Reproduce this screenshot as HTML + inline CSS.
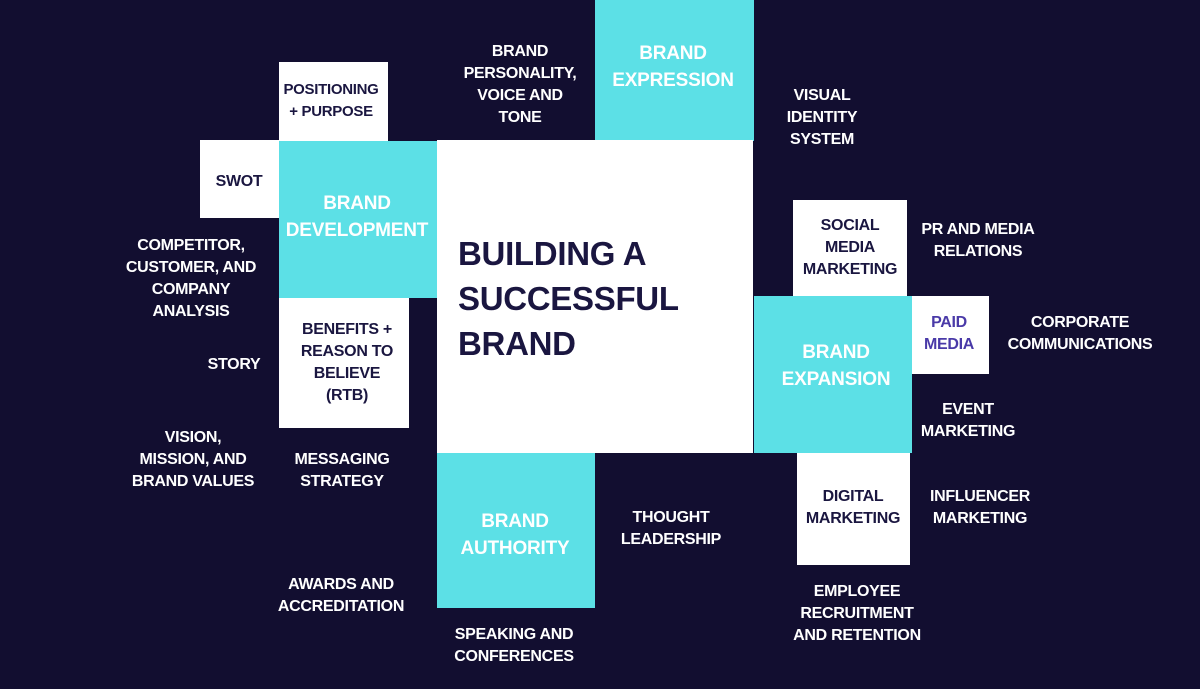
<!DOCTYPE html>
<html><head><meta charset="utf-8"><style>
body{margin:0;width:1200px;height:689px;background:#120e30;position:relative;overflow:hidden;font-family:"Liberation Sans",sans-serif;font-weight:bold}
.b{position:absolute}
.w{background:#fff}.c{background:#5ce0e6}
.t{position:absolute;transform:translateX(-50%);text-align:center;white-space:nowrap;font-size:16px;line-height:22px;letter-spacing:-0.3px;color:#fff}
.d{color:#1a1640}
.h{font-size:19px;line-height:27px;letter-spacing:-0.2px;color:#fff}
</style></head><body>
<div class="b c" style="left:595px;top:0;width:159px;height:141px"></div>
<div class="b w" style="left:437px;top:140px;width:316px;height:313px"></div>
<div class="b w" style="left:279px;top:62px;width:109px;height:80px"></div>
<div class="b w" style="left:200px;top:140px;width:79px;height:78px"></div>
<div class="b c" style="left:279px;top:141px;width:158px;height:157px"></div>
<div class="b w" style="left:279px;top:298px;width:130px;height:130px"></div>
<div class="b c" style="left:437px;top:453px;width:158px;height:155px"></div>
<div class="b w" style="left:793px;top:200px;width:114px;height:97px"></div>
<div class="b c" style="left:754px;top:296px;width:158px;height:157px"></div>
<div class="b w" style="left:912px;top:296px;width:77px;height:78px"></div>
<div class="b w" style="left:797px;top:453px;width:113px;height:112px"></div>

<div class="t" style="left:520px;top:41px">BRAND<br>PERSONALITY,<br>VOICE AND<br>TONE</div>
<div class="t h" style="left:673px;top:40px">BRAND<br>EXPRESSION</div>
<div class="t" style="left:822px;top:85px">VISUAL<br>IDENTITY<br>SYSTEM</div>
<div class="t d" style="left:331px;top:79px;font-size:15px">POSITIONING<br>+ PURPOSE</div>
<div class="t d" style="left:239px;top:171px">SWOT</div>
<div class="t h" style="left:357px;top:190px">BRAND<br>DEVELOPMENT</div>
<div class="t" style="left:191px;top:235px">COMPETITOR,<br>CUSTOMER, AND<br>COMPANY<br>ANALYSIS</div>
<div class="t d" style="left:347px;top:319px">BENEFITS +<br>REASON TO<br>BELIEVE<br>(RTB)</div>
<div class="t" style="left:234px;top:354px">STORY</div>
<div class="t" style="left:193px;top:427px">VISION,<br>MISSION, AND<br>BRAND VALUES</div>
<div class="t" style="left:342px;top:449px">MESSAGING<br>STRATEGY</div>
<div class="t h" style="left:515px;top:508px">BRAND<br>AUTHORITY</div>
<div class="t" style="left:671px;top:507px">THOUGHT<br>LEADERSHIP</div>
<div class="t" style="left:341px;top:574px">AWARDS AND<br>ACCREDITATION</div>
<div class="t" style="left:514px;top:624px">SPEAKING AND<br>CONFERENCES</div>
<div class="t d" style="left:850px;top:215px">SOCIAL<br>MEDIA<br>MARKETING</div>
<div class="t" style="left:978px;top:219px">PR AND MEDIA<br>RELATIONS</div>
<div class="t" style="left:949px;top:312px;color:#4a3aa8">PAID<br>MEDIA</div>
<div class="t" style="left:1080px;top:312px">CORPORATE<br>COMMUNICATIONS</div>
<div class="t h" style="left:836px;top:339px">BRAND<br>EXPANSION</div>
<div class="t" style="left:968px;top:399px">EVENT<br>MARKETING</div>
<div class="t d" style="left:853px;top:486px">DIGITAL<br>MARKETING</div>
<div class="t" style="left:980px;top:486px">INFLUENCER<br>MARKETING</div>
<div class="t" style="left:857px;top:581px">EMPLOYEE<br>RECRUITMENT<br>AND RETENTION</div>
<div style="position:absolute;left:458px;top:231px;font-size:33px;line-height:45px;color:#1a1640;letter-spacing:-0.3px">BUILDING A<br>SUCCESSFUL<br>BRAND</div>
</body></html>
